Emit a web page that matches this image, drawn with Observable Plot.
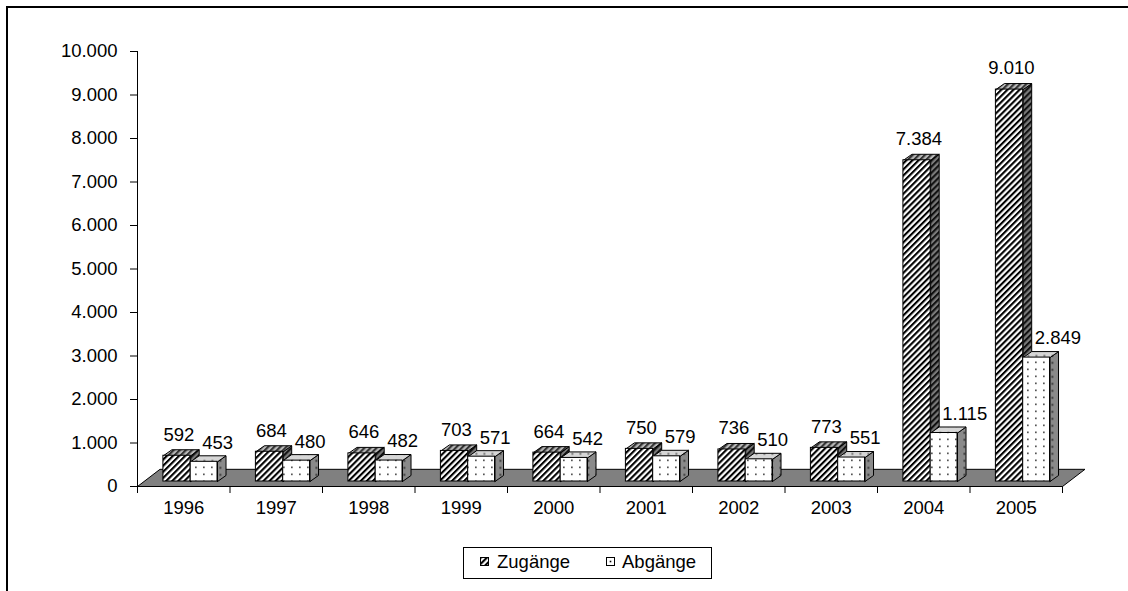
<!DOCTYPE html>
<html><head><meta charset="utf-8">
<script src="https://cdn.jsdelivr.net/npm/d3@7"></script>
<script src="https://cdn.jsdelivr.net/npm/@observablehq/plot@0.6"></script>
<style>
html,body{margin:0;padding:0;background:#fff;overflow:hidden;}
#wrap{position:relative;width:1128px;height:591px;overflow:hidden;font-family:"Liberation Sans",Arial,sans-serif;color:#000;}
#border{position:absolute;left:6px;top:6px;width:1300px;height:800px;border:2px solid #000;box-sizing:border-box;}
#chart{position:absolute;left:0;top:0;}
#legend{position:absolute;left:463px;top:547px;width:249px;height:32px;border:1px solid #000;box-sizing:border-box;background:#fff;font-size:18.5px;}
#legend .icon{position:absolute;top:9px;width:9px;height:9px;overflow:visible;}
#legend .lab{position:absolute;top:3px;line-height:22px;white-space:nowrap;}
</style></head>
<body><div id="wrap"><div id="border"></div><div id="chart"></div><div id="legend"></div></div>
<script>
// ---- data ----
const years = ["1996","1997","1998","1999","2000","2001","2002","2003","2004","2005"];
const zugaenge = [592, 684, 646, 703, 664, 750, 736, 773, 7384, 9010];
const abgaenge = [453, 480, 482, 571, 542, 579, 510, 551, 1115, 2849];
const seriesNames = ["Zugänge", "Abgänge"];
const yTicks = [0,1000,2000,3000,4000,5000,6000,7000,8000,9000,10000];

// ---- helpers ----
const de = d3.formatLocale({decimal: ",", thousands: ".", grouping: [3], currency: ["", " €"]});
const fmt = de.format(",d");

// 3D geometry (category units / value units)
const Z1 = 0.28, Z2 = 0.575, A2 = 0.865;   // bar slots within a category
const DX = 0.092, DY = 138;                // bar depth
const FDX = 0.243, FDY = 395;              // floor depth
const LIFT = -5;                           // bars stand slightly back on the floor

// pattern defs
const NS = "http://www.w3.org/2000/svg";
const defsSvg = document.createElementNS(NS, "svg");
defsSvg.setAttribute("width", 0); defsSvg.setAttribute("height", 0);
defsSvg.style.position = "absolute";
function hatch(id, bg, fg) {
  return `<pattern id="${id}" patternUnits="userSpaceOnUse" width="4.3" height="4.3" patternTransform="rotate(45)">
    <rect width="4.3" height="4.3" fill="${bg}"/><rect width="2.1" height="4.3" fill="${fg}"/></pattern>`;
}
function dots(id, bg, fg) {
  return `<pattern id="${id}" patternUnits="userSpaceOnUse" width="8" height="7">
    <rect width="8" height="7" fill="${bg}"/><rect x="3" y="2.5" width="1.7" height="1.7" fill="${fg}"/></pattern>`;
}
defsSvg.innerHTML = "<defs>" +
  hatch("hFront", "#fff", "#000") + hatch("hTop", "#b8b8b8", "#333") + hatch("hSide", "#7a7a7a", "#111") +
  dots("dFront", "#fff", "#555") + dots("dTop", "#d6d6d6", "#555") + dots("dSide", "#8a8a8a", "#222") +
  "</defs>";
document.getElementById("wrap").appendChild(defsSvg);

// build faces
function faces(values, x1, x2) {
  const top = [], side = [], front = [];
  values.forEach((v, i) => {
    const a = i + x1, b = i + x2;
    front.push({x1: a, x2: b, v});
    [[a, v], [b, v], [b + DX, v + DY], [a + DX, v + DY], [a, v]].forEach(([x, y]) => top.push({x, y, id: i}));
    [[b, 0], [b, v], [b + DX, v + DY], [b + DX, DY], [b, 0]].forEach(([x, y]) => side.push({x, y, id: i}));
  });
  return {top, side, front};
}
const zf = faces(zugaenge, Z1, Z2);
const af = faces(abgaenge, Z2, A2);
const n = years.length;
const floor = [[0, 0], [n, 0], [n + FDX, FDY], [FDX, FDY], [0, 0]].map(([x, y]) => ({x, y}));

function faceMarks(f, front, top, side) {
  return [
    Plot.line(f.side, {x: "x", y: "y", z: "id", fill: `url(#${side})`, stroke: "#000", strokeWidth: 1, strokeLinejoin: "miter", dy: LIFT}),
    Plot.line(f.top, {x: "x", y: "y", z: "id", fill: `url(#${top})`, stroke: "#000", strokeWidth: 1, strokeLinejoin: "miter", dy: LIFT}),
    Plot.rect(f.front, {x1: "x1", x2: "x2", y1: 0, y2: "v", fill: `url(#${front})`, stroke: "#000", strokeWidth: 1, dy: LIFT})
  ];
}

const chart = Plot.plot({
  width: 1128,
  height: 540,
  marginLeft: 137,
  marginRight: 66,
  marginTop: 51,
  marginBottom: 54,
  style: {fontFamily: "'Liberation Sans', Arial, sans-serif", fontSize: "18.5px", color: "#000", background: "transparent", overflow: "visible"},
  x: {type: "linear", domain: [0, n], ticks: d3.range(n + 1), tickFormat: () => "", tickSize: 7, line: true, label: null},
  y: {domain: [0, 10000], ticks: yTicks, tickFormat: fmt, tickSize: 7, tickPadding: 13, line: true, label: null},
  marks: [
    Plot.line(floor, {x: "x", y: "y", fill: "#808080", stroke: "#000", strokeWidth: 1, strokeLinejoin: "miter"}),
    ...faceMarks(zf, "hFront", "hTop", "hSide"),
    ...faceMarks(af, "dFront", "dTop", "dSide"),
    Plot.text(zugaenge, {x: (d, i) => i + (Z1 + Z2) / 2 + 0.02, y: d => d, text: d => fmt(d), textAnchor: "middle", dy: LIFT - 21, fill: "#000"}),
    Plot.text(abgaenge, {x: (d, i) => i + (Z2 + A2) / 2 - 0.02, y: d => d, text: d => fmt(d), textAnchor: "start", dy: LIFT - 19, fill: "#000"}),
    Plot.text(years, {x: (d, i) => i + 0.5, y: () => 0, text: d => d, textAnchor: "middle", dy: 22, fill: "#000"})
  ]
});
document.getElementById("chart").appendChild(chart);

// legend
const legend = document.getElementById("legend");
const items = [
  {name: seriesNames[0], fill: "url(#hFront)", iconLeft: 16, textLeft: 33},
  {name: seriesNames[1], fill: "#fff", dot: true, iconLeft: 142, textLeft: 158}
];
items.forEach(it => {
  const ic = document.createElementNS(NS, "svg");
  ic.setAttribute("class", "icon");
  ic.setAttribute("width", 9); ic.setAttribute("height", 9);
  ic.style.left = it.iconLeft + "px";
  ic.innerHTML = `<rect x="0.5" y="0.5" width="8" height="8" fill="${it.fill}" stroke="#000" stroke-width="1"/>` +
    (it.dot ? `<rect x="3.7" y="3.7" width="1.6" height="1.6" fill="#000"/>` : "");
  legend.appendChild(ic);
  const t = document.createElement("span");
  t.className = "lab";
  t.style.left = it.textLeft + "px";
  t.textContent = it.name;
  legend.appendChild(t);
});
</script>
</body></html>
